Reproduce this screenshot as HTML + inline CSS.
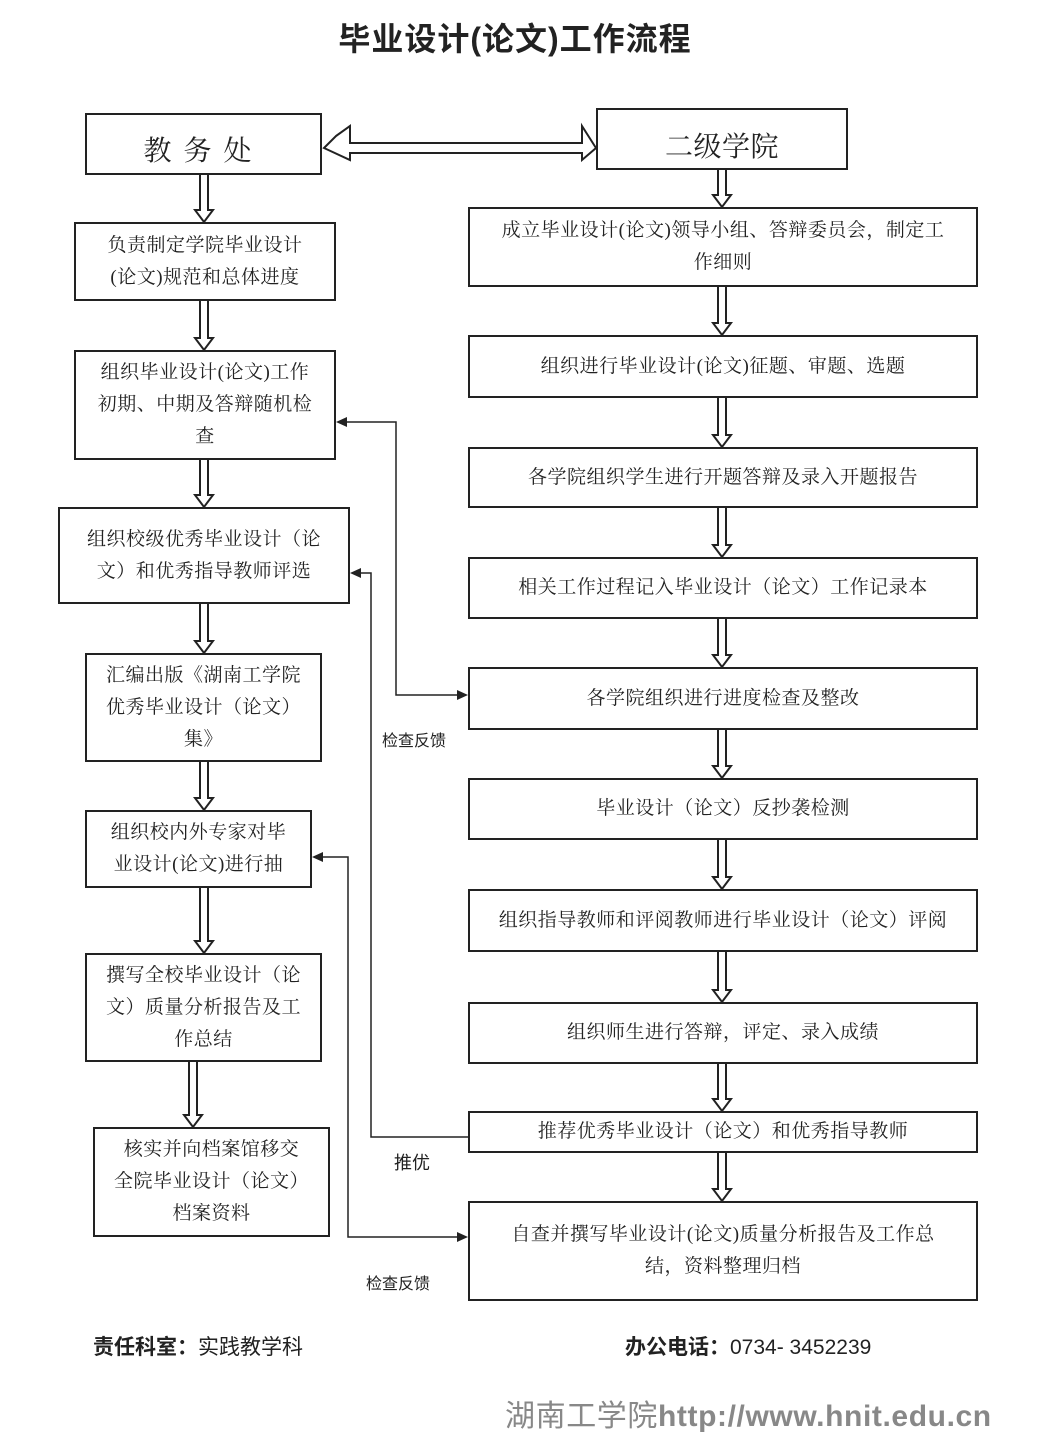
<!DOCTYPE html>
<html><head><meta charset="utf-8"><style>
body{margin:0;width:1061px;height:1449px;background:#fff;position:relative;overflow:hidden;font-family:"Liberation Sans","Noto Sans CJK SC",sans-serif;color:#222}
.b{position:absolute;border:2px solid #222;box-sizing:border-box;display:flex;align-items:center;justify-content:center;text-align:center;font-size:19px;line-height:32px;padding:0 4px;white-space:nowrap;letter-spacing:0.5px;font-family:"Liberation Serif","Noto Serif CJK SC",serif}
.t{position:absolute;white-space:nowrap}
svg{position:absolute;left:0;top:0}
</style></head><body>
<div class="t" style="left:0;width:1030px;text-align:center;top:14px;font-size:32px;font-weight:bold;letter-spacing:1px">毕业设计(论文)工作流程</div>

<div class="b" style="left:85px;top:113px;width:237px;height:62px;font-size:28px;letter-spacing:12px;padding-top:16px">教务处</div>
<div class="b" style="left:74px;top:222px;width:262px;height:79px">负责制定学院毕业设计<br>(论文)规范和总体进度</div>
<div class="b" style="left:74px;top:350px;width:262px;height:110px">组织毕业设计(论文)工作<br>初期、中期及答辩随机检<br>查</div>
<div class="b" style="left:58px;top:507px;width:292px;height:97px">组织校级优秀毕业设计（论<br>文）和优秀指导教师评选</div>
<div class="b" style="left:85px;top:653px;width:237px;height:109px">汇编出版《湖南工学院<br>优秀毕业设计（论文）<br>集》</div>
<div class="b" style="left:85px;top:810px;width:227px;height:78px">组织校内外专家对毕<br>业设计(论文)进行抽</div>
<div class="b" style="left:85px;top:953px;width:237px;height:109px">撰写全校毕业设计（论<br>文）质量分析报告及工<br>作总结</div>
<div class="b" style="left:93px;top:1127px;width:237px;height:110px">核实并向档案馆移交<br>全院毕业设计（论文）<br>档案资料</div>

<div class="b" style="left:596px;top:108px;width:252px;height:62px;font-size:28px;padding-top:18px">二级学院</div>
<div class="b" style="left:468px;top:207px;width:510px;height:80px">成立毕业设计(论文)领导小组、答辩委员会，制定工<br>作细则</div>
<div class="b" style="left:468px;top:335px;width:510px;height:63px">组织进行毕业设计(论文)征题、审题、选题</div>
<div class="b" style="left:468px;top:447px;width:510px;height:61px">各学院组织学生进行开题答辩及录入开题报告</div>
<div class="b" style="left:468px;top:557px;width:510px;height:62px">相关工作过程记入毕业设计（论文）工作记录本</div>
<div class="b" style="left:468px;top:667px;width:510px;height:63px">各学院组织进行进度检查及整改</div>
<div class="b" style="left:468px;top:778px;width:510px;height:62px">毕业设计（论文）反抄袭检测</div>
<div class="b" style="left:468px;top:889px;width:510px;height:63px">组织指导教师和评阅教师进行毕业设计（论文）评阅</div>
<div class="b" style="left:468px;top:1002px;width:510px;height:62px">组织师生进行答辩，评定、录入成绩</div>
<div class="b" style="left:468px;top:1111px;width:510px;height:42px">推荐优秀毕业设计（论文）和优秀指导教师</div>
<div class="b" style="left:468px;top:1201px;width:510px;height:100px">自查并撰写毕业设计(论文)质量分析报告及工作总<br>结，资料整理归档</div>

<svg width="1061" height="1449">
<g fill="#fff" stroke="#222" stroke-width="2">
<path d="M336 136 L350 126 L350 143 L582 143 L582 126 L596 148 L582 160 L582 153 L350 153 L350 160 L324 148 Z"/>
<path d="M200 175 V210 H195 L204 222 L213 210 H208 V175"/>
<path d="M200 301 V338 H195 L204 350 L213 338 H208 V301"/>
<path d="M200 460 V495 H195 L204 507 L213 495 H208 V460"/>
<path d="M200 604 V641 H195 L204 653 L213 641 H208 V604"/>
<path d="M200 762 V798 H195 L204 810 L213 798 H208 V762"/>
<path d="M200 888 V941 H195 L204 953 L213 941 H208 V888"/>
<path d="M189 1062 V1115 H184 L193 1127 L202 1115 H197 V1062"/>
<path d="M718 170 V195 H713 L722 207 L731 195 H726 V170"/>
<path d="M718 287 V323 H713 L722 335 L731 323 H726 V287"/>
<path d="M718 398 V435 H713 L722 447 L731 435 H726 V398"/>
<path d="M718 508 V545 H713 L722 557 L731 545 H726 V508"/>
<path d="M718 619 V655 H713 L722 667 L731 655 H726 V619"/>
<path d="M718 730 V766 H713 L722 778 L731 766 H726 V730"/>
<path d="M718 840 V877 H713 L722 889 L731 877 H726 V840"/>
<path d="M718 952 V990 H713 L722 1002 L731 990 H726 V952"/>
<path d="M718 1064 V1099 H713 L722 1111 L731 1099 H726 V1064"/>
<path d="M718 1153 V1189 H713 L722 1201 L731 1189 H726 V1153"/>
</g>
<g fill="none" stroke="#222" stroke-width="1.5">
<polyline points="346,422 396,422 396,695 458,695"/>
<polyline points="468,1137 371,1137 371,573 360,573"/>
<polyline points="322,857 348,857 348,1237 458,1237"/>
</g>
<g fill="#222">
<polygon points="336,422 347,417 347,427"/>
<polygon points="468,695 457,690 457,700"/>
<polygon points="350,573 361,568 361,578"/>
<polygon points="312,857 323,852 323,862"/>
<polygon points="468,1237 457,1232 457,1242"/>
</g>
</svg>
<div class="t" style="left:382px;top:727px;font-size:16px">检查反馈</div>
<div class="t" style="left:394px;top:1149px;font-size:18px">推优</div>
<div class="t" style="left:366px;top:1270px;font-size:16px">检查反馈</div>

<div class="t" style="left:93px;top:1331px;font-size:21px"><b>责任科室：</b>实践教学科</div>
<div class="t" style="left:625px;top:1331px;font-size:21px"><b>办公电话：</b>0734- 3452239</div>
<div class="t" style="left:505px;top:1391px;font-size:30px;letter-spacing:0.6px;color:#888">湖南工学院<b>http://www.hnit.edu.cn</b></div>
</body></html>
